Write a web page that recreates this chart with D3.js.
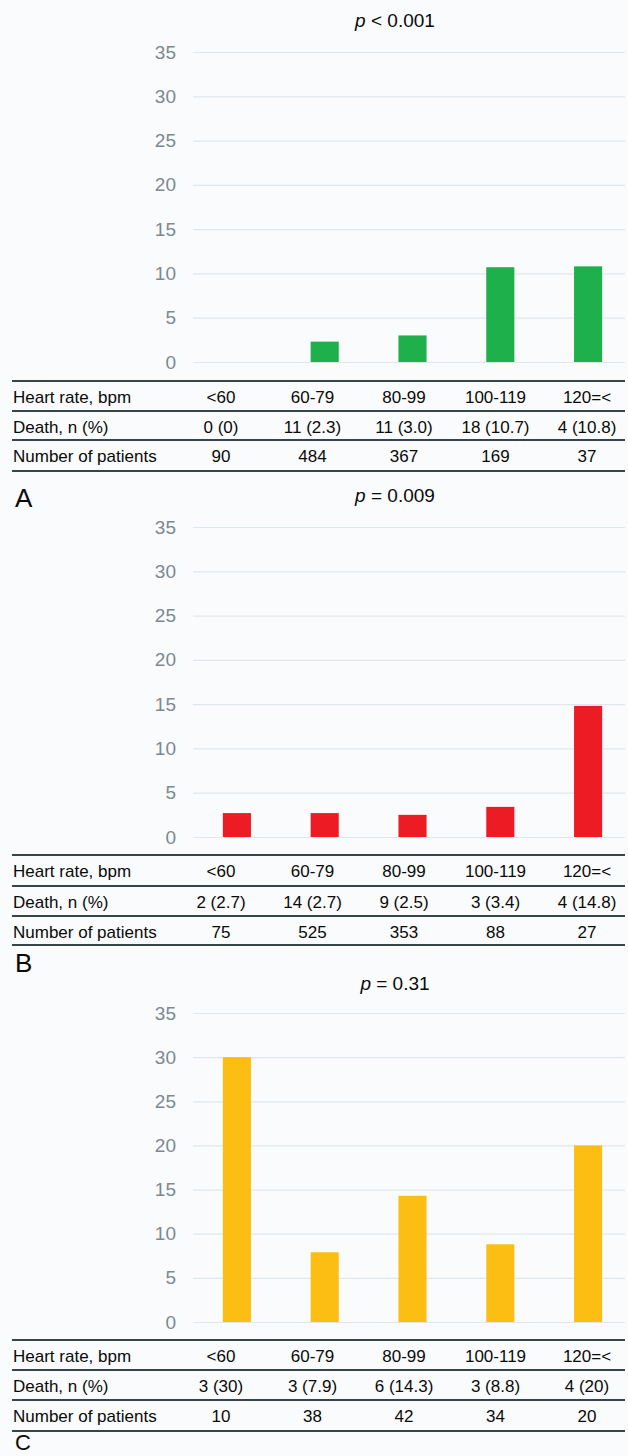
<!DOCTYPE html>
<html>
<head>
<meta charset="utf-8">
<script src="https://cdn.jsdelivr.net/npm/d3@7"></script>
<style>
  html, body { margin: 0; padding: 0; background: #ffffff; }
  svg { display: block; }
  text { font-family: "Liberation Sans", Arial, sans-serif; }
</style>
</head>
<body>
<svg id="chart" width="628" height="1456"></svg>
<script>
// Data
const categories = ["<60", "60-79", "80-99", "100-119", "120=<"];
const yTicks = [0, 5, 10, 15, 20, 25, 30, 35];
const rowLabels = ["Heart rate, bpm", "Death, n (%)", "Number of patients"];
const panelNames = ["A", "B", "C"];
const pTexts = [" < 0.001", " = 0.009", " = 0.31"];

const mortalityA = [0, 2.3, 3.0, 10.7, 10.8];
const mortalityB = [2.7, 2.7, 2.5, 3.4, 14.8];
const mortalityC = [30, 7.9, 14.3, 8.8, 20];

const deathsA = ["0 (0)", "11 (2.3)", "11 (3.0)", "18 (10.7)", "4 (10.8)"];
const deathsB = ["2 (2.7)", "14 (2.7)", "9 (2.5)", "3 (3.4)", "4 (14.8)"];
const deathsC = ["3 (30)", "3 (7.9)", "6 (14.3)", "3 (8.8)", "4 (20)"];

const patientsA = [90, 484, 367, 169, 37];
const patientsB = [75, 525, 353, 88, 27];
const patientsC = [10, 38, 42, 34, 20];

// Layout per panel (pixel positions of the 35 line, zero line, table rules, title, label)
const LAYOUT = [
  { top: 52, zero: 362, rules: [381, 411, 440, 471], title: 27, label: 507, labelSize: 26 },
  { top: 527, zero: 837, rules: [855, 886, 916, 945], title: 502, label: 972, labelSize: 26 },
  { top: 1013, zero: 1322, rules: [1340, 1370, 1400, 1431], title: 990, label: 1450, labelSize: 22 },
];
const COLORS = ["#1db04b", "#ed1c24", "#fdbe14"];
const PLOT_X = [193, 632];
const GRID_END = 625;
const TABLE_X = [12, 625];
const TABLE_COLS = [221, 587];

const panels = [
  { values: mortalityA, deaths: deathsA, patients: patientsA },
  { values: mortalityB, deaths: deathsB, patients: patientsB },
  { values: mortalityC, deaths: deathsC, patients: patientsC },
];

const svg = d3.select("#chart");
svg.append("rect")
  .attr("width", 628).attr("height", 1456)
  .attr("fill", "#fafbfc");

const x = d3.scaleBand()
  .domain(categories)
  .range(PLOT_X)
  .paddingInner(0.68)
  .paddingOuter(0.34);

const col = d3.scalePoint()
  .domain(categories)
  .range(TABLE_COLS);

panels.forEach((panel, i) => {
  const lay = LAYOUT[i];
  const g = svg.append("g");

  const y = d3.scaleLinear().domain([0, 35]).range([lay.zero, lay.top]);

  // Gridlines and tick labels
  const axis = d3.axisLeft(y)
    .tickValues(yTicks)
    .tickSize(-(GRID_END - PLOT_X[0]))
    .tickPadding(17);
  const ax = g.append("g")
    .attr("transform", `translate(${PLOT_X[0]},0)`)
    .call(axis);
  ax.select(".domain").remove();
  ax.selectAll(".tick line")
    .attr("stroke", "#dfe7ec")
    .attr("stroke-width", 1.2);
  ax.selectAll(".tick text")
    .attr("fill", "#7a8992")
    .attr("font-size", 19)
    .attr("font-family", "'Liberation Sans', Arial, sans-serif");

  // Bars
  g.append("g")
    .selectAll("rect")
    .data(panel.values)
    .join("rect")
    .attr("x", (d, j) => x(categories[j]))
    .attr("width", x.bandwidth())
    .attr("y", (d) => y(d))
    .attr("height", (d) => y(0) - y(d))
    .attr("fill", COLORS[i]);

  // Title
  const title = g.append("text")
    .attr("x", 395)
    .attr("y", lay.title)
    .attr("text-anchor", "middle")
    .attr("font-size", 19)
    .attr("fill", "#0a0a0a");
  title.append("tspan").attr("font-style", "italic").text("p");
  title.append("tspan").text(pTexts[i]);

  // Table rules
  g.append("g")
    .selectAll("line")
    .data(lay.rules)
    .join("line")
    .attr("x1", TABLE_X[0])
    .attr("x2", TABLE_X[1])
    .attr("y1", (d) => d)
    .attr("y2", (d) => d)
    .attr("stroke", "#37444a")
    .attr("stroke-width", 2);

  // Table rows
  const rows = [categories, panel.deaths, panel.patients];
  rows.forEach((cells, r) => {
    const base = lay.rules[r] + 22;
    g.append("text")
      .attr("x", 13)
      .attr("y", base)
      .attr("font-size", 17)
      .attr("fill", "#0a0a0a")
      .text(rowLabels[r]);
    g.append("g")
      .selectAll("text")
      .data(cells)
      .join("text")
      .attr("x", (d, j) => col(categories[j]))
      .attr("y", base)
      .attr("text-anchor", "middle")
      .attr("font-size", 17)
      .attr("fill", "#0a0a0a")
      .text((d) => d);
  });

  // Panel letter
  g.append("text")
    .attr("x", 15)
    .attr("y", lay.label)
    .attr("font-size", lay.labelSize)
    .attr("fill", "#0a0a0a")
    .text(panelNames[i]);
});
</script>
</body>
</html>
